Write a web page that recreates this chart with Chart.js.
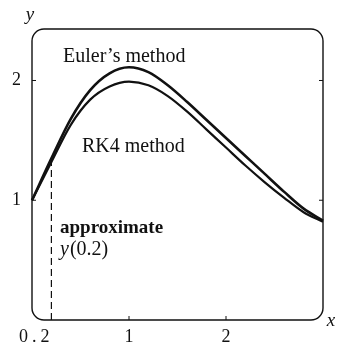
<!DOCTYPE html>
<html><head><meta charset="utf-8">
<script src="https://cdn.jsdelivr.net/npm/chart.js@4/dist/chart.umd.min.js"></script>
<style>html,body{margin:0;padding:0;background:#fff;overflow:hidden}</style>
</head><body>
<canvas id="c" width="340" height="346" style="display:block;width:340px;height:346px"></canvas>
<script>
// ---- data ----
const xValues     = [0, 0.2, 0.4, 0.6, 0.8, 1.0, 1.2, 1.4, 1.6, 1.8, 2.0, 2.2, 2.4, 2.6, 2.8, 3.0];
const eulerValues = [1.00, 1.35, 1.68, 1.92, 2.06, 2.11, 2.07, 1.96, 1.82, 1.67, 1.52, 1.37, 1.22, 1.07, 0.93, 0.83];
const rk4Values   = [1.00, 1.32, 1.63, 1.84, 1.95, 1.99, 1.96, 1.87, 1.74, 1.59, 1.44, 1.29, 1.15, 1.02, 0.90, 0.82];
const xTickValues = [1, 2];
const xTickLabels = ['1', '2'];
const yTickValues = [1, 2];
const yTickLabels = ['1', '2'];
const markX = 0.2;          // step where y(0.2) is approximated
const markY = 1.33;         // top of the dashed line
const markLabel = '0.2';
const eulerLabel = 'Euler\u2019s method';
const rk4Label = 'RK4 method';
const noteLine1 = 'approximate';
const noteLine2 = ['y', '(0.2)'];
const xAxisTitle = 'x';
const yAxisTitle = 'y';

const SERIF = '"Liberation Serif", "DejaVu Serif", serif';
const INK = '#111';

const toPts = ys => xValues.map((x, i) => ({x: x, y: ys[i]}));

const decor = {
  id: 'decor',
  beforeDatasetsDraw(chart) {
    const {ctx, chartArea: a} = chart;
    const xs = chart.scales.x, ys = chart.scales.y;
    ctx.save();
    ctx.strokeStyle = INK;
    ctx.lineWidth = 1.4;
    ctx.beginPath();
    ctx.roundRect(a.left, a.top, a.right - a.left, a.bottom - a.top, 12);
    ctx.stroke();
    // inward tick marks
    ctx.lineWidth = 1;
    ctx.beginPath();
    yTickValues.forEach(v => {
      const p = ys.getPixelForValue(v);
      ctx.moveTo(a.left, p); ctx.lineTo(a.left + 4, p);
      ctx.moveTo(a.right, p); ctx.lineTo(a.right - 4, p);
    });
    xTickValues.forEach(v => {
      const p = xs.getPixelForValue(v);
      ctx.moveTo(p, a.bottom); ctx.lineTo(p, a.bottom - 4);
    });
    ctx.stroke();
    ctx.restore();
  },
  afterDraw(chart) {
    const {ctx, chartArea: a} = chart;
    const xs = chart.scales.x, ys = chart.scales.y;
    const px = v => xs.getPixelForValue(v), py = v => ys.getPixelForValue(v);
    ctx.save();
    ctx.fillStyle = INK;
    ctx.textBaseline = 'alphabetic';
    ctx.font = '20px ' + SERIF;
    ctx.textAlign = 'left';
    ctx.fillText(eulerLabel, px(0.32), py(2.155));
    ctx.fillText(rk4Label, px(0.515), py(1.403));
    ctx.font = 'bold 19px ' + SERIF;
    ctx.fillText(noteLine1, px(0.289), py(0.727));
    ctx.font = 'italic 20px ' + SERIF;
    const x0 = px(0.289), b2 = py(0.543);
    ctx.fillText(noteLine2[0], x0, b2);
    const w = ctx.measureText(noteLine2[0]).width;
    ctx.font = '20px ' + SERIF;
    ctx.fillText(noteLine2[1], x0 + w + 1, b2);
    // label for the dashed step line, beside the tick labels
    ctx.font = '18px ' + SERIF;
    ctx.letterSpacing = '4px';
    ctx.textAlign = 'right';
    ctx.fillText(markLabel, px(markX) + 2, 342);
    ctx.letterSpacing = '0px';
    // axis titles
    ctx.font = 'italic 19px ' + SERIF;
    ctx.textAlign = 'center';
    ctx.textBaseline = 'middle';
    ctx.fillText(yAxisTitle, a.left - 2, a.top - 14);
    ctx.fillText(xAxisTitle, a.right + 8, a.bottom + 1);
    ctx.restore();
  }
};

new Chart(document.getElementById('c'), {
  type: 'line',
  data: {
    datasets: [
      {label: 'Euler', data: toPts(eulerValues), borderColor: INK, borderWidth: 2.6,
       pointRadius: 0, cubicInterpolationMode: 'monotone', fill: false, clip: false},
      {label: 'RK4', data: toPts(rk4Values), borderColor: INK, borderWidth: 2.2,
       pointRadius: 0, cubicInterpolationMode: 'monotone', fill: false, clip: false},
      {label: 'step', data: [{x: markX, y: 0}, {x: markX, y: markY}], borderColor: INK,
       borderWidth: 1.2, borderDash: [7, 4], pointRadius: 0, fill: false, tension: 0}
    ]
  },
  options: {
    responsive: false,
    devicePixelRatio: 1,
    animation: false,
    events: [],
    layout: {padding: {top: 29, right: 17, left: 0, bottom: 0}},
    plugins: {legend: {display: false}, tooltip: {enabled: false}},
    scales: {
      x: {
        type: 'linear', min: 0, max: 3,
        grid: {display: false, drawTicks: false},
        border: {display: false},
        afterBuildTicks: s => { s.ticks = xTickValues.map(v => ({value: v})); },
        afterFit: s => { s.height = 26; },
        ticks: {
          color: INK, padding: 6, maxRotation: 0,
          font: {family: SERIF, size: 18},
          callback: v => xTickLabels[xTickValues.indexOf(v)]
        }
      },
      y: {
        type: 'linear', min: 0, max: 2.43,
        grid: {display: false, drawTicks: false},
        border: {display: false},
        afterBuildTicks: s => { s.ticks = yTickValues.map(v => ({value: v})); },
        afterFit: s => { s.width = 32; },
        ticks: {
          color: INK, padding: 11,
          font: {family: SERIF, size: 18},
          callback: v => yTickLabels[yTickValues.indexOf(v)]
        }
      }
    }
  },
  plugins: [decor]
});
</script>
</body></html>
